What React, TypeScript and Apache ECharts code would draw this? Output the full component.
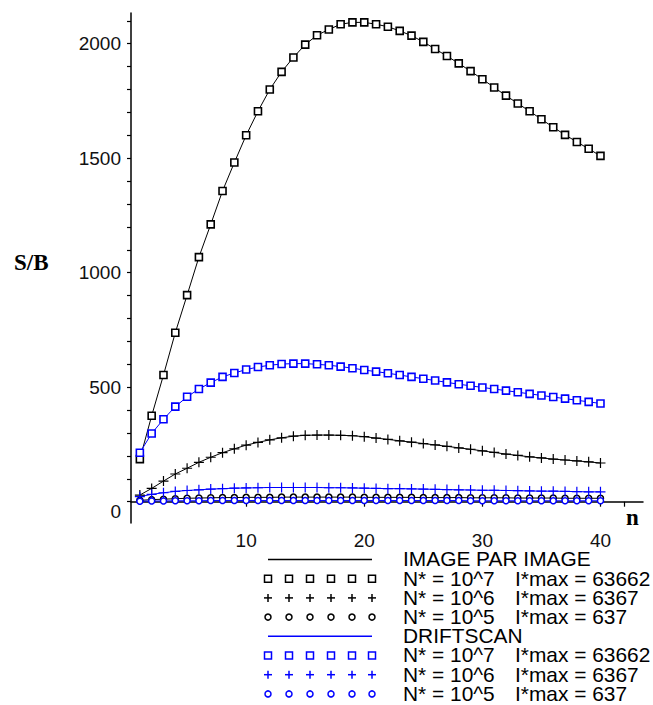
import React, { useEffect, useRef } from "react";
import * as echarts from "echarts";

// n values (x)
const nValues = [1,2,3,4,5,6,7,8,9,10,11,12,13,14,15,16,17,18,19,20,21,22,23,24,25,26,27,28,29,30,31,32,33,34,35,36,37,38,39,40];

// IMAGE PAR IMAGE
const imageN7 = [186,375,553,738,902,1068,1211,1357,1481,1600,1705,1800,1877,1940,1996,2037,2062,2085,2093,2093,2085,2074,2056,2035,2008,1977,1946,1914,1880,1845,1809,1773,1739,1705,1670,1635,1602,1571,1541,1510];
const imageN6 = [29,58,90,121,146,172,194,214,231,247,259,270,279,286,290,291,291,290,288,284,278,272,266,260,254,248,242,235,229,222,215,208,202,196,191,186,182,178,174,169];
const imageN5 = [6,9,11,13,15,16,17,18,18,19,19,19,20,20,20,20,20,20,20,19,19,19,19,19,18,18,18,18,17,17,17,17,16,16,16,16,15,15,15,15];

// DRIFTSCAN
const driftN7 = [214,298,360,415,458,492,520,545,562,577,588,596,601,603,603,600,596,590,583,575,568,561,553,545,537,529,521,513,506,499,492,485,478,471,464,457,450,443,436,429];
const driftN6 = [22,32,39,45,49,52,55,57,59,60,61,62,62,62,62,62,61,61,60,59,58,57,57,56,55,54,53,52,51,50,50,49,48,47,46,46,45,44,43,43];
const driftN5 = [2,3,3,4,4,4,5,5,5,5,5,5,5,5,5,5,5,5,5,5,5,5,5,5,5,5,5,5,4,4,4,4,4,4,4,4,4,4,4,4];

// axis ticks / labels
const yLabelValues = [0, 500, 1000, 1500, 2000];
const yTickValues = [0,100,200,300,400,500,600,700,800,900,1000,1100,1200,1300,1400,1500,1600,1700,1800,1900,2000,2100];
const xLabelValues = [10, 20, 30, 40];
const xTickValues = [10, 20, 30, 40, 42];

// legend text
const legendGroups = [
  { title: "IMAGE PAR IMAGE", color: "#000000", rows: [
    { n: "N* = 10^7", imax: "I*max = 63662", marker: "square" },
    { n: "N* = 10^6", imax: "I*max = 6367", marker: "plus" },
    { n: "N* = 10^5", imax: "I*max = 637", marker: "circle" },
  ]},
  { title: "DRIFTSCAN", color: "#0000ff", rows: [
    { n: "N* = 10^7", imax: "I*max = 63662", marker: "square" },
    { n: "N* = 10^6", imax: "I*max = 6367", marker: "plus" },
    { n: "N* = 10^5", imax: "I*max = 637", marker: "circle" },
  ]},
];

const BLACK = "#000000";
const BLUE = "#0000ff";
const PLUS_PATH = "path://M4.4,0h1.2v4.4h4.4v1.2h-4.4v4.4h-1.2v-4.4h-4.4v-1.2h4.4z";

const pairs = (vals: number[]) => nValues.map((n, i) => [n, vals[i]]);

function makeSeries(name: string, vals: number[], color: string, marker: string) {
  const base: any = {
    name,
    type: "line",
    data: pairs(vals),
    showSymbol: true,
    showAllSymbol: true,
    lineStyle: { color, width: 1 },
    z: 3,
  };
  if (marker === "square") {
    base.symbol = "rect";
    base.symbolSize = 7;
    base.itemStyle = { color: "#ffffff", borderColor: color, borderWidth: 1.6 };
  } else if (marker === "plus") {
    base.symbol = PLUS_PATH;
    base.symbolSize = 10;
    base.itemStyle = { color, borderWidth: 0 };
  } else {
    base.symbol = "circle";
    base.symbolSize = 6;
    base.itemStyle = { color: "#ffffff", borderColor: color, borderWidth: 1.5 };
  }
  return base;
}

const FONT = '"Liberation Sans", Arial, sans-serif';
const LEGEND_FONT = `19px ${FONT}`;
const STRETCH = 1.1;

function legendText(text: string, x: number, y: number) {
  return {
    type: "text",
    x,
    y,
    scaleX: STRETCH,
    scaleY: 1.04,
    style: { text, font: LEGEND_FONT, lineHeight: 18, fill: "#000", verticalAlign: "middle", textVerticalAlign: "middle" },
  };
}

function buildLegend() {
  const els: any[] = [];
  const markerXs = [268, 289, 310, 331, 352, 372];
  const rowH = 19.2;
  let y = 559.5;
  legendGroups.forEach((g) => {
    els.push({ type: "line", shape: { x1: 268, y1: y, x2: 372, y2: y }, style: { stroke: g.color, lineWidth: 1.5 } });
    els.push(legendText(g.title, 403, y));
    y += rowH;
    g.rows.forEach((r) => {
      markerXs.forEach((mx) => {
        if (r.marker === "square") {
          els.push({ type: "rect", shape: { x: mx - 3.5, y: y - 3.5, width: 7, height: 7 }, style: { fill: "#fff", stroke: g.color, lineWidth: 1.5 } });
        } else if (r.marker === "plus") {
          els.push({ type: "line", shape: { x1: mx - 4, y1: y, x2: mx + 4, y2: y }, style: { stroke: g.color, lineWidth: 1.5 } });
          els.push({ type: "line", shape: { x1: mx, y1: y - 4, x2: mx, y2: y + 4 }, style: { stroke: g.color, lineWidth: 1.5 } });
        } else {
          els.push({ type: "circle", shape: { cx: mx, cy: y, r: 3 }, style: { fill: "#fff", stroke: g.color, lineWidth: 1.5 } });
        }
      });
      els.push(legendText(r.n, 403, y));
      els.push(legendText(r.imax, 515, y));
      y += rowH;
    });
  });
  return els;
}

export default function App() {
  const ref = useRef<HTMLDivElement>(null);
  useEffect(() => {
    if (!ref.current) return;
    const chart = echarts.init(ref.current, undefined, { renderer: "svg" });
    chart.setOption({
      animation: false,
      backgroundColor: "#ffffff",
      grid: { left: 131, right: 10, top: 13, bottom: 182, containLabel: false },
      xAxis: {
        type: "value",
        min: 0.25,
        max: 43.6,
        axisLine: { onZero: true, lineStyle: { color: "#000", width: 1.5 } },
        axisTick: { show: true, customValues: xTickValues, length: 5, lineStyle: { color: "#000", width: 1.2 } },
        axisLabel: { customValues: xLabelValues, color: "#111", fontFamily: FONT, fontSize: 19, margin: 8 },
        splitLine: { show: false },
      },
      yAxis: {
        type: "value",
        min: -93,
        max: 2134,
        axisLine: { show: true, onZero: false, lineStyle: { color: "#000", width: 1.5 } },
        axisTick: { show: true, customValues: yTickValues, length: 4, lineStyle: { color: "#000", width: 1.2 } },
        axisLabel: {
          customValues: yLabelValues,
          color: "#111",
          fontFamily: FONT,
          fontSize: 19,
          margin: 10,
          formatter: (v: number) => (v === 0 ? "{z|0}" : String(v)),
          rich: { z: { padding: [20, 0, 0, 0], fontFamily: FONT, fontSize: 19, color: "#111" } },
        },
        splitLine: { show: false },
      },
      series: [
        makeSeries("IMAGE N*=10^7", imageN7, BLACK, "square"),
        makeSeries("IMAGE N*=10^6", imageN6, BLACK, "plus"),
        makeSeries("IMAGE N*=10^5", imageN5, BLACK, "circle"),
        makeSeries("DRIFTSCAN N*=10^7", driftN7, BLUE, "square"),
        makeSeries("DRIFTSCAN N*=10^6", driftN6, BLUE, "plus"),
        makeSeries("DRIFTSCAN N*=10^5", driftN5, BLUE, "circle"),
      ],
      graphic: [
        { type: "text", x: 14, y: 262, style: { text: "S/B", font: 'bold 23px "Liberation Serif", "Times New Roman", serif', fill: "#000", verticalAlign: "middle", textVerticalAlign: "middle" } },
        { type: "text", x: 626, y: 517, style: { text: "n", font: 'bold 23px "Liberation Serif", "Times New Roman", serif', fill: "#000", verticalAlign: "middle", textVerticalAlign: "middle" } },
        ...buildLegend(),
      ],
    });
    return () => chart.dispose();
  }, []);
  return <div ref={ref} style={{ position: "absolute", left: 0, top: 0, width: 653, height: 705 }} />;
}
